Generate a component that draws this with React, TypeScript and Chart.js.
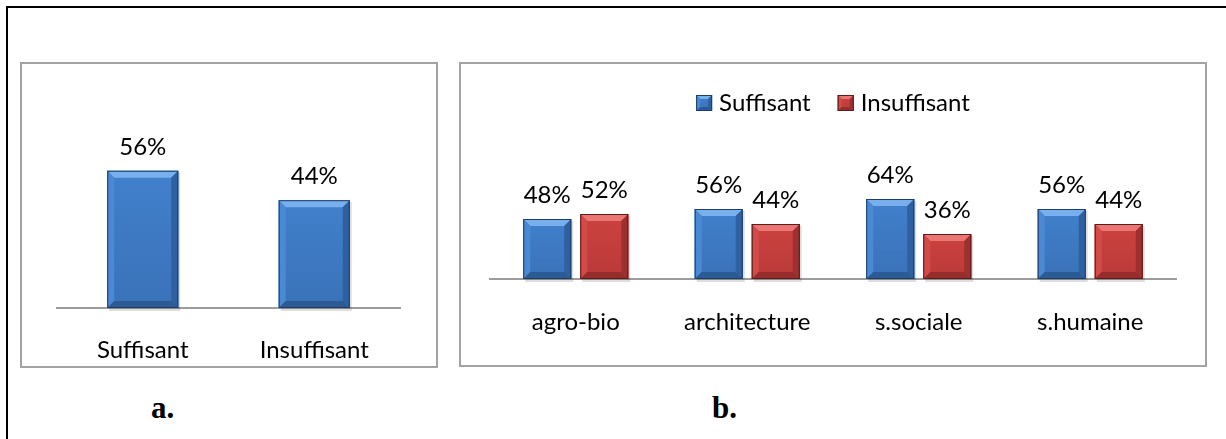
import React, { useEffect, useRef } from "react";
import { Chart, registerables } from "chart.js";

Chart.register(...registerables);

// ---------- data ----------
const overallCategories = ["Suffisant", "Insuffisant"];
const overallValues = [56, 44];

const facultyCategories = ["agro-bio", "architecture", "s.sociale", "s.humaine"];
const suffisantValues = [48, 56, 64, 56];
const insuffisantValues = [52, 44, 36, 44];
const seriesNames = ["Suffisant", "Insuffisant"];

const panelLabels = ["a.", "b."];

// ---------- styles ----------
const FONT = "Lato, 'Open Sans', sans-serif";
const FONT_SIZE = 24;

type Palette = { body: string; bodyDark: string; top: string; left: string; right: string; bottom: string; edge: string };

const BLUE: Palette = {
  body: "#4180cc",
  bodyDark: "#3a72b8",
  top: "#78b0ee",
  left: "#4a89d4",
  right: "#2f609f",
  bottom: "#2c5a95",
  edge: "#1e3e6a",
};
const RED: Palette = {
  body: "#cc4240",
  bodyDark: "#b93a39",
  top: "#ea7674",
  left: "#d24b49",
  right: "#9e302f",
  bottom: "#962d2c",
  edge: "#5e1b1b",
};

function poly(ctx: CanvasRenderingContext2D, pts: number[][], color: string) {
  ctx.beginPath();
  ctx.moveTo(pts[0][0], pts[0][1]);
  for (let i = 1; i < pts.length; i++) ctx.lineTo(pts[i][0], pts[i][1]);
  ctx.closePath();
  ctx.fillStyle = color;
  ctx.fill();
}

function drawBevel(ctx: CanvasRenderingContext2D, l: number, t: number, w: number, h: number, pal: Palette, bevel: number) {
  if (w <= 0 || h <= 0) return;
  const r = l + w;
  const b = t + h;
  const bb = Math.min(bevel, w / 3, h / 3);
  const g = ctx.createLinearGradient(0, t, 0, b);
  g.addColorStop(0, pal.body);
  g.addColorStop(1, pal.bodyDark);
  ctx.fillStyle = g;
  ctx.fillRect(l, t, w, h);
  poly(ctx, [[l, t], [r, t], [r - bb, t + bb], [l + bb, t + bb]], pal.top);
  poly(ctx, [[l, t], [l + bb, t + bb], [l + bb, b - bb], [l, b]], pal.left);
  poly(ctx, [[r, t], [r, b], [r - bb, b - bb], [r - bb, t + bb]], pal.right);
  poly(ctx, [[l, b], [l + bb, b - bb], [r - bb, b - bb], [r, b]], pal.bottom);
  ctx.strokeStyle = pal.edge;
  ctx.lineWidth = 1;
  ctx.strokeRect(l + 0.5, t + 0.5, w - 1, h - 1);
}

const LEGEND_BOX = 16;

function makeBevelPlugin(palettes: Palette[], withLegend: boolean) {
  return {
    id: "bevelBars",
    beforeDatasetsDraw(chart: any) {
      const ctx = chart.ctx as CanvasRenderingContext2D;
      ctx.save();
      chart.data.datasets.forEach((_ds: any, di: number) => {
        const meta = chart.getDatasetMeta(di);
        meta.data.forEach((el: any) => {
          const { x, y, base, width } = el.getProps(["x", "y", "base", "width"], true);
          ctx.fillStyle = "rgba(0,0,0,0.13)";
          ctx.fillRect(x - width / 2 + 2, y + 2, width, base - y + 1);
        });
      });
      ctx.restore();
    },
    afterDatasetsDraw(chart: any) {
      const ctx = chart.ctx as CanvasRenderingContext2D;
      ctx.save();
      chart.data.datasets.forEach((_ds: any, di: number) => {
        const meta = chart.getDatasetMeta(di);
        const pal = palettes[di % palettes.length];
        meta.data.forEach((el: any) => {
          const { x, y, base, width } = el.getProps(["x", "y", "base", "width"], true);
          drawBevel(ctx, x - width / 2, y, width, base - y, pal, 7);
        });
      });
      // value labels
      ctx.fillStyle = "#000";
      ctx.font = `${FONT_SIZE}px ${FONT}`;
      ctx.textAlign = "center";
      ctx.textBaseline = "middle";
      chart.data.datasets.forEach((ds: any, di: number) => {
        const meta = chart.getDatasetMeta(di);
        meta.data.forEach((el: any, i: number) => {
          const { x, y } = el.getProps(["x", "y"], true);
          ctx.fillText(`${ds.data[i]}%`, x, y - 24);
        });
      });
      ctx.restore();
    },
    afterDraw(chart: any) {
      if (!withLegend || !chart.legend || !chart.legend.legendHitBoxes) return;
      const ctx = chart.ctx as CanvasRenderingContext2D;
      ctx.save();
      chart.legend.legendHitBoxes.forEach((hb: any, i: number) => {
        const pal = palettes[i % palettes.length];
        const top = hb.top + Math.max((FONT_SIZE - LEGEND_BOX) / 2, 0);
        drawBevel(ctx, hb.left, top, LEGEND_BOX, LEGEND_BOX, pal, 4);
      });
      ctx.restore();
    },
  };
}

function xAxis(height: number, padding: number) {
  return {
    grid: { display: false, drawTicks: false },
    border: { display: true, color: "#9c9c9c", width: 2 },
    ticks: { color: "#000", font: { family: FONT, size: FONT_SIZE }, padding },
    afterFit: (s: any) => {
      s.height = height;
    },
  };
}

function OverallChart() {
  const ref = useRef<HTMLCanvasElement>(null);
  useEffect(() => {
    if (!ref.current) return;
    const chart = new Chart(ref.current, {
      type: "bar",
      data: {
        labels: overallCategories,
        datasets: [
          {
            label: "Total",
            data: overallValues,
            backgroundColor: BLUE.body,
            borderWidth: 0,
            categoryPercentage: 1,
            barPercentage: 0.414,
          },
        ],
      },
      options: {
        animation: false,
        responsive: false,
        maintainAspectRatio: false,
        events: [],
        layout: { padding: { top: 72.5, left: 35, right: 36, bottom: 0 } },
        plugins: { legend: { display: false }, tooltip: { enabled: false } },
        scales: {
          x: xAxis(58, 28) as any,
          y: { display: false, min: 0, max: 70 },
        },
      },
      plugins: [makeBevelPlugin([BLUE], false)],
    });
    return () => chart.destroy();
  }, []);
  return <canvas ref={ref} width={414} height={302} style={{ display: "block", width: 414, height: 302 }} />;
}

function FacultyChart() {
  const ref = useRef<HTMLCanvasElement>(null);
  useEffect(() => {
    if (!ref.current) return;
    const chart = new Chart(ref.current, {
      type: "bar",
      data: {
        labels: facultyCategories,
        datasets: [
          {
            label: seriesNames[0],
            data: suffisantValues,
            backgroundColor: BLUE.body,
            borderColor: BLUE.edge,
            borderWidth: 0,
            categoryPercentage: 0.665,
            barPercentage: 0.842,
          },
          {
            label: seriesNames[1],
            data: insuffisantValues,
            backgroundColor: RED.body,
            borderColor: RED.edge,
            borderWidth: 0,
            categoryPercentage: 0.665,
            barPercentage: 0.842,
          },
        ],
      },
      options: {
        animation: false,
        responsive: false,
        maintainAspectRatio: false,
        events: [],
        layout: { padding: { top: 0, left: 29, right: 29, bottom: 0 } },
        plugins: {
          legend: {
            display: true,
            position: "top",
            labels: {
              boxWidth: 11,
              boxHeight: 16,
              padding: 27,
              color: "#000",
              font: { family: FONT, size: FONT_SIZE },
            },
          },
          tooltip: { enabled: false },
        },
        scales: {
          x: xAxis(86, 28.6) as any,
          y: { display: false, min: 0, max: 123.2 },
        },
      },
      plugins: [makeBevelPlugin([BLUE, RED], true)],
    });
    return () => chart.destroy();
  }, []);
  return <canvas ref={ref} width={744} height={301} style={{ display: "block", width: 744, height: 301 }} />;
}

export default function App() {
  const panelBorder = "2px solid #a3a3a3";
  const labelStyle: React.CSSProperties = {
    position: "absolute",
    fontFamily: "'Liberation Serif', 'Times New Roman', serif",
    fontWeight: "bold",
    fontSize: 31,
    lineHeight: "31px",
    color: "#000",
  };
  return (
    <div style={{ position: "absolute", left: 0, top: 0, width: 1226, height: 439, overflow: "hidden", background: "#fff" }}>
      <div
        style={{
          position: "absolute",
          left: 6,
          top: 6,
          width: 1240,
          height: 450,
          borderTop: "2px solid #000",
          borderLeft: "2px solid #000",
          boxSizing: "border-box",
        }}
      />
      <div style={{ position: "absolute", left: 20, top: 62, width: 418, height: 306, border: panelBorder, boxSizing: "border-box" }}>
        <OverallChart />
      </div>
      <div style={{ position: "absolute", left: 459, top: 62, width: 748, height: 305, border: panelBorder, boxSizing: "border-box" }}>
        <FacultyChart />
      </div>
      <div style={{ ...labelStyle, left: 151, top: 392 }}>{panelLabels[0]}</div>
      <div style={{ ...labelStyle, left: 712, top: 392 }}>{panelLabels[1]}</div>
    </div>
  );
}
